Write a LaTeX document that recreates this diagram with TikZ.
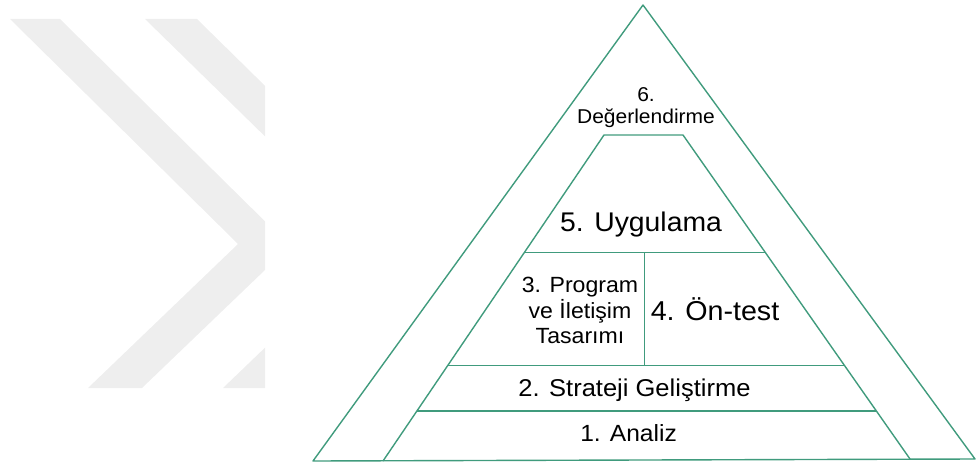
\documentclass[tikz,border=0pt]{standalone}
\usepackage{fontspec}
\setmainfont{Liberation Sans}[FakeStretch=1.05]
\definecolor{pyrgreen}{RGB}{64,155,125}
\definecolor{markgray}{RGB}{238,238,238}
\tikzset{
  pyrline/.style={draw=pyrgreen, line width=1.4pt, line join=round},
  stagelbl/.style={inner sep=0pt, align=center, text=black}
}
\begin{document}
\begin{tikzpicture}[x=1pt, y=-1pt]
    \useasboundingbox (0,0) rectangle (977,468);
    % watermark chevrons
    \begin{scope}
      \clip (0,0) rectangle (265,468);
      \fill[markgray] (10,19) -- (60,19) -- (290,246) -- (142,388) -- (88,388) -- (238,244) -- cycle;
      \fill[markgray] (145,19) -- (197,19) -- (430,248) -- (275,388) -- (223,388) -- (374,243) -- cycle;
    \end{scope}
    \draw[pyrline] (313,461) -- (643,5) -- (975,459) -- cycle ;
    \draw[pyrline] (383,461) -- (604,135) -- (683,135) -- (910,459) ;
    \draw[pyrline] (524.2,252.7) -- (765.5,252.7) ;
    \draw[pyrline] (447.6,365.7) -- (844.6,365.7) ;
    \draw[pyrline] (416.9,411) -- (876.4,411) ;
    \draw[pyrline] (644.5,252.7) -- (644.5,365.7) ;
    \node[stagelbl, font=\fontsize{20}{22}\selectfont] (eval) at (646,107.4) { 6.\\Değerlendirme };
    \node[stagelbl, anchor=base, font=\fontsize{27}{30}\selectfont] (impl) at (645,231.7) { 5. Uygulama };
    \node[stagelbl, font=\fontsize{22}{25.5}\selectfont] (design) at (580,310.8) { 3. Program\\ve İletişim\\Tasarımı };
    \node[stagelbl, anchor=base, font=\fontsize{27.3}{30}\selectfont] (pretest) at (719,320) { 4. Ön-test };
    \node[stagelbl, anchor=base, font=\fontsize{24.3}{28}\selectfont] (strategy) at (638,396.7) { 2. Strateji Geliştirme };
    \node[stagelbl, anchor=base, font=\fontsize{23.4}{27}\selectfont] (analysis) at (632,441.7) { 1. Analiz };
  \end{tikzpicture}
\end{document}
